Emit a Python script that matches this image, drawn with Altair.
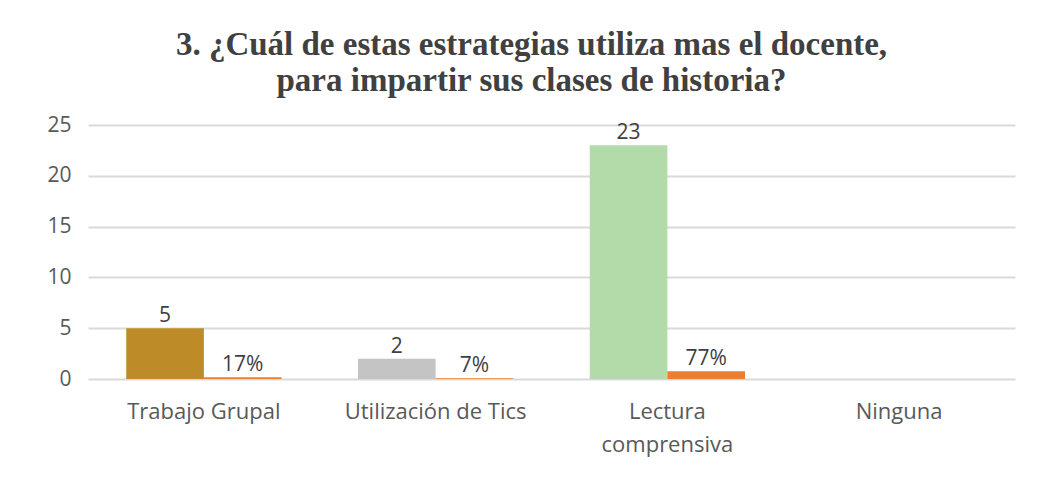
import altair as alt
import pandas as pd

categories = ["Trabajo Grupal", "Utilización de Tics", "Lectura comprensiva", "Ninguna"]
counts = [5, 2, 23, None]
percents = [0.17, 0.07, 0.77, None]
count_labels = ["5", "2", "23", ""]
pct_labels = ["17%", "7%", "77%", ""]
count_colors = ["#BD8B27", "#C4C4C4", "#B2DBA9", "#FFFFFF"]
pct_color = "#ED7D31"

rows = []
for i, c in enumerate(categories):
    rows.append({"cat": c, "serie": "a", "value": counts[i], "label": count_labels[i], "key": f"a{i}"})
    rows.append({"cat": c, "serie": "b", "value": percents[i], "label": pct_labels[i], "key": f"b{i}"})
df = pd.DataFrame(rows)

keys = [f"a{i}" for i in range(4)] + [f"b{i}" for i in range(4)]
colors = count_colors + [pct_color] * 4

FONT = "Open Sans"

x = alt.X("cat:N", sort=categories, title=None,
          scale=alt.Scale(paddingInner=0.33, paddingOuter=0.165),
          axis=alt.Axis(labelAngle=0, domain=False, ticks=False, labelFont=FONT,
                        labelFontSize=22, labelColor="#595959", labelPadding=22,
                        labelLineHeight=33, labelLimit=400,
                        labelExpr="datum.label == 'Lectura comprensiva' ? ['Lectura', 'comprensiva'] : datum.label"))
xo = alt.XOffset("serie:N", sort=["a", "b"])
y = alt.Y("value:Q", title=None, scale=alt.Scale(domain=[0, 25], nice=False, zero=True),
          axis=alt.Axis(values=[0, 5, 10, 15, 20, 25], domain=False, ticks=False,
                        labelFont=FONT, labelFontSize=21, labelColor="#595959",
                        labelPadding=17, gridColor="#D9D9D9", gridWidth=2))

base = alt.Chart(df)
bars = base.mark_bar().encode(
    x=x, xOffset=xo, y=y,
    color=alt.Color("key:N", scale=alt.Scale(domain=keys, range=colors), legend=None),
)
texts = base.mark_text(baseline="bottom", dy=-2, font=FONT, fontSize=21, color="#404040").encode(
    x=x, xOffset=xo, y="value:Q", text="label:N"
)

chart = (bars + texts).properties(
    width=927, height=254,
    autosize=alt.AutoSizeParams(type="none"),
    padding={"left": 80, "top": 117, "right": 10, "bottom": 100},
    title=alt.Title(
        ["3. ¿Cuál de estas estrategias utiliza mas el docente,", "para impartir sus clases de historia?"],
        font="Liberation Serif", fontSize=33, fontWeight="bold", color="#404040",
        anchor="middle", offset=16, lineHeight=36, dx=-20,
    ),
).configure(background="white").configure_view(stroke=None)

chart.save("out.html", embed_options={"renderer": "svg", "actions": False})
